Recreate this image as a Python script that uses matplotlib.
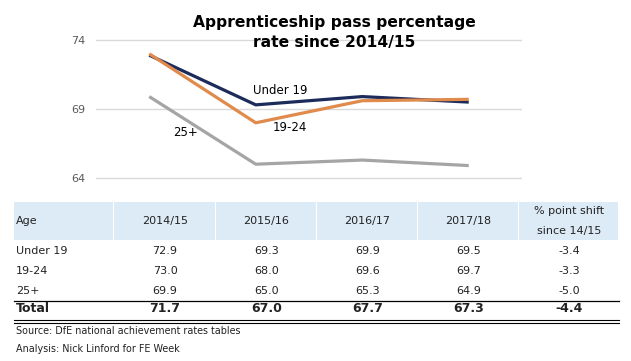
import matplotlib
matplotlib.use("Agg")
import matplotlib.pyplot as plt
from matplotlib.patches import Rectangle
from matplotlib.lines import Line2D

W, H = 631, 361

years = ["2014/15", "2015/16", "2016/17", "2017/18"]
groups = ["Under 19", "19-24", "25+"]
under19 = [72.9, 69.3, 69.9, 69.5]
age19_24 = [73.0, 68.0, 69.6, 69.7]
age25 = [69.9, 65.0, 65.3, 64.9]
total = [71.7, 67.0, 67.7, 67.3]
shift = [-3.4, -3.3, -5.0]
total_shift = -4.4
yticks = [64, 69, 74]

navy = "#1c2b5a"
orange = "#e08a4c"
grey = "#a5a5a5"
txt = "#222222"

plt.rcParams['font.family'] = ['DejaVu Sans']

fig = plt.figure(figsize=(W / 100, H / 100), dpi=100)


def px(x, y):
    return x / W, 1 - y / H


def ftext(x, y, s, **kw):
    fx, fy = px(x, y)
    fig.text(fx, fy, s, **kw)


# chart area: 74 sits at y=40px, 64 at y=178px; axes padded 4px each way
ax = fig.add_axes([96 / W, 1 - 182 / H, (522 - 96) / W, (182 - 36) / H])
ax.set_xlim(-0.5, 3.5)
ax.set_ylim(64 - 4 / 13.8, 74 + 4 / 13.8)
ax.set_yticks(yticks)
ax.set_xticks([])
for s in ax.spines.values():
    s.set_visible(False)
ax.grid(axis="y", color="#d9d9d9", lw=1)
ax.set_axisbelow(True)
ax.tick_params(axis="y", length=0, pad=8, labelsize=8, labelcolor="#595959")

xs = range(len(years))
ax.plot(xs, age25, color=grey, lw=2.3, solid_capstyle="butt")
ax.plot(xs, under19, color=navy, lw=2.3, solid_capstyle="butt")
ax.plot(xs, age19_24, color=orange, lw=2.3, solid_capstyle="butt")

ftext(280, 91, "Under 19", ha="center", va="center", fontsize=8.5, color="black")
ftext(290, 128, "19-24", ha="center", va="center", fontsize=8.5, color="black")
ftext(185, 133, "25+", ha="center", va="center", fontsize=8.5, color="black")

ftext(334, 22, "Apprenticeship pass percentage", ha="center", va="center",
      fontsize=11.2, fontweight="bold", color="black")
ftext(334, 43, "rate since 2014/15", ha="center", va="center",
      fontsize=11.2, fontweight="bold", color="black")

# table
col_edges = [14, 114, 216, 317, 418, 519, 619]
centers = [(col_edges[i] + col_edges[i + 1]) / 2 for i in range(len(col_edges) - 1)]

for i in range(len(col_edges) - 1):
    x0, x1 = col_edges[i], col_edges[i + 1]
    fx, fy = px(x0, 240)
    fig.patches.append(Rectangle((fx, fy), (x1 - x0 - 1) / W, 38 / H,
                                 transform=fig.transFigure, facecolor="#ddebf7",
                                 edgecolor="none"))

ftext(16, 221, "Age", ha="left", va="center", fontsize=8, color=txt)
for c, yr in zip(centers[1:5], years):
    ftext(c, 221, yr, ha="center", va="center", fontsize=8, color=txt)
ftext(centers[5], 211, "% point shift", ha="center", va="center", fontsize=8, color=txt)
ftext(centers[5], 231, "since 14/15", ha="center", va="center", fontsize=8, color=txt)

rows = [under19, age19_24, age25]
row_y = [251, 271, 291]
for g, vals, sh, y in zip(groups, rows, shift, row_y):
    ftext(16, y, g, ha="left", va="center", fontsize=8, color=txt)
    for c, v in zip(centers[1:5], vals):
        ftext(c, y, f"{v:.1f}", ha="center", va="center", fontsize=8, color=txt)
    ftext(centers[5], y, f"{sh:.1f}", ha="center", va="center", fontsize=8, color=txt)

ftext(16, 309, "Total", ha="left", va="center", fontsize=9, fontweight="bold", color=txt)
for c, v in zip(centers[1:5], total):
    ftext(c, 309, f"{v:.1f}", ha="center", va="center", fontsize=9,
          fontweight="bold", color=txt)
ftext(centers[5], 309, f"{total_shift:.1f}", ha="center", va="center", fontsize=9,
      fontweight="bold", color=txt)


def hline(y, lw):
    x0, fy = px(14, y)
    x1, _ = px(619, y)
    fig.lines.append(Line2D([x0, x1], [fy, fy], transform=fig.transFigure,
                            color="black", lw=lw))


hline(300.5, 0.9)
hline(320, 0.8)
hline(322.5, 0.8)

ftext(16, 331, "Source: DfE national achievement rates tables", ha="left",
      va="center", fontsize=6.9, color=txt)
ftext(16, 349, "Analysis: Nick Linford for FE Week", ha="left",
      va="center", fontsize=6.9, color=txt)

fig.savefig("out.png", dpi=100, facecolor="white")
